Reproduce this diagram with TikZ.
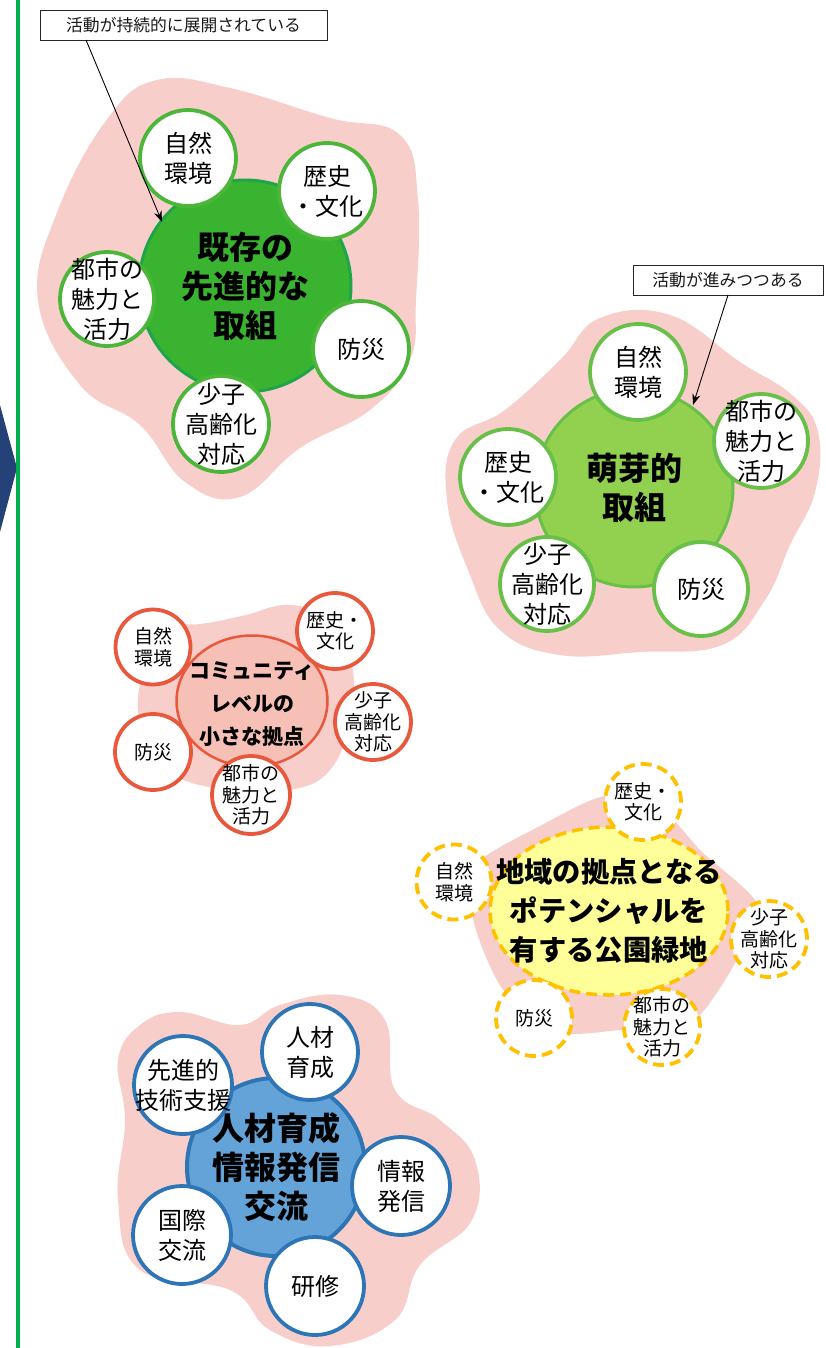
\documentclass[tikz,border=0pt]{standalone}
\usepackage{fontspec}
\setmainfont{Noto Sans CJK JP}
\usetikzlibrary{shapes.geometric,arrows.meta}
\definecolor{pinkbg}{RGB}{248,206,202}
\definecolor{gfill}{RGB}{58,180,48}
\definecolor{gline}{RGB}{30,165,75}
\definecolor{gsat}{RGB}{76,182,58}
\definecolor{lgfill}{RGB}{146,208,80}
\definecolor{lgline}{RGB}{104,192,72}
\definecolor{rline}{RGB}{232,88,60}
\definecolor{rfill}{RGB}{246,192,182}
\definecolor{yfill}{RGB}{255,255,153}
\definecolor{yline}{RGB}{255,192,0}
\definecolor{bfill}{RGB}{100,163,216}
\definecolor{bline}{RGB}{46,117,182}
\definecolor{navy}{RGB}{37,66,120}
\definecolor{vgreen}{RGB}{0,176,80}
\newcommand\fsSatL{\fontsize{24}{30}\selectfont}
\newcommand\fsSatS{\fontsize{19}{21.5}\selectfont}
\newcommand\fsCenL{\bfseries\fontsize{32}{39}\selectfont}
\newcommand\fsCenM{\bfseries\fontsize{21}{33}\selectfont}
\newcommand\fsCenY{\bfseries\fontsize{28.3}{39}\selectfont}
\newcommand\fsNote{\fontsize{16.8}{18}\selectfont}
\begin{document}
\begin{tikzpicture}[x=1pt,y=-1pt,
  sat/.style={circle, draw, fill=white, line width=3.8pt, inner sep=-30pt, align=center, text=black},
  cen/.style={circle, draw, line width=3pt, inner sep=-30pt, align=center, text=black},
  lbl/.style={inner sep=0pt, align=center, text=black},
  note/.style={draw=black!85, line width=0.9pt, fill=white, inner sep=0pt, font=\fsNote, text=black!90},
  blob/.style={fill=pinkbg},
  callout/.style={draw=black, line width=0.9pt, -{Stealth[length=11pt,width=8pt]}},
  ydash/.style={dash pattern=on 11pt off 6pt}
]
\useasboundingbox (0,0) rectangle (826,1348);
\fill[white] (0,0) rectangle (826,1348);

% left chevron and vertical line
\fill[navy] (0,405) -- (17,468) -- (0,532) -- cycle;
\draw[vgreen, line width=4.5pt] (18,0) -- (18,1348);

% ---------- cluster 1 ----------
\fill[blob] plot[smooth cycle, tension=0.7] coordinates {
 (157,80) (230,88) (330,118) (400,135) (418,200) (416,300) (410,360) (370,410)
 (300,448) (240,497) (185,482) (140,425) (80,385) (38,300) (58,210) (108,118)};
\node[cen, fill=gfill, draw=gline, minimum size=212pt, font=\fsCenL] (c1) at (245,286) {既存の\\先進的な\\取組};
\node[sat, draw=gsat, minimum size=96pt, font=\fsSatL] (c1a) at (188,158) {自然\\環境};
\node[sat, draw=gsat, minimum size=96pt, font=\fsSatL] (c1b) at (327,191) {歴史\\・文化};
\node[sat, draw=gsat, minimum size=94pt, font=\fsSatL] (c1c) at (107,299) {都市の\\魅力と\\活力};
\node[sat, draw=gsat, minimum size=96pt, font=\fsSatL] (c1d) at (361,349) {防災};
\node[sat, draw=gsat, minimum size=96pt, font=\fsSatL] (c1e) at (221,424) {少子\\高齢化\\対応};
\node[note, minimum width=287pt, minimum height=30pt] (n1) at (183.5,25) {活動が持続的に展開されている};
\coordinate (n1s) at (86,40);
\coordinate (n1e) at (162,222);
\draw[callout] (n1s) -- (n1e);

% ---------- cluster 2 ----------
\fill[blob] plot[smooth cycle, tension=0.7] coordinates {
 (600,318) (670,315) (740,362) (792,395) (818,432) (815,492) (790,545) (765,600)
 (722,645) (640,652) (560,655) (500,630) (468,570) (447,500) (455,440) (505,410) (560,360)};
\node[cen, fill=lgfill, draw=lgline, minimum size=198pt, font=\fsCenL] (c2) at (634,488) {萌芽的\\取組};
\node[sat, draw=lgline, minimum size=96pt, font=\fsSatL] (c2a) at (638,372) {自然\\環境};
\node[sat, draw=lgline, minimum size=94pt, font=\fsSatL] (c2b) at (761,441) {都市の\\魅力と\\活力};
\node[sat, draw=lgline, minimum size=96pt, font=\fsSatL] (c2c) at (508,477) {歴史\\・文化};
\node[sat, draw=lgline, minimum size=94pt, font=\fsSatL] (c2d) at (547,584) {少子\\高齢化\\対応};
\node[sat, draw=lgline, minimum size=94pt, font=\fsSatL] (c2e) at (701,589) {防災};
\node[note, minimum width=190pt, minimum height=30pt] (n2) at (728,280) {活動が進みつつある};
\coordinate (n2s) at (728,295);
\coordinate (n2e) at (693,405);
\draw[callout] (n2s) -- (n2e);

% ---------- cluster 3 ----------
\fill[blob] plot[smooth cycle, tension=0.7] coordinates {
 (150,628) (200,624) (242,616) (290,605) (332,622) (352,665) (350,720) (330,770)
 (290,790) (230,790) (170,772) (140,722) (142,670)};
\node[ellipse, draw=rline, fill=rfill, line width=2.5pt, inner sep=0pt, minimum width=151pt, minimum height=131pt] (c3) at (252,701) {};
\node[lbl, font=\fsCenM] (c3t) at (252,704) {コミュニティ\\レベルの\\小さな拠点};
\node[sat, draw=rline, minimum size=75pt, font=\fsSatS] (c3a) at (153,647) {自然\\環境};
\node[sat, draw=rline, minimum size=76pt, font=\fsSatS] (c3b) at (335,631) {歴史・\\文化};
\node[sat, draw=rline, minimum size=76pt, font=\fsSatS] (c3c) at (373,722) {少子\\高齢化\\対応};
\node[sat, draw=rline, minimum size=76pt, font=\fsSatS] (c3d) at (153,752) {防災};
\node[sat, draw=rline, minimum size=78pt, font=\fsSatS] (c3e) at (251,795) {都市の\\魅力と\\活力};

% ---------- cluster 4 ----------
\fill[blob] plot[smooth cycle, tension=0.45] coordinates {
 (478,862) (540,826) (605,796) (662,810) (702,852) (756,902) (744,945) (720,988)
 (690,1022) (620,1030) (560,1032) (505,992) (480,942) (470,900)};
\node[ellipse, draw=yline, fill=yfill, line width=3.5pt, ydash, inner sep=0pt, minimum width=238pt, minimum height=168pt] (c4) at (609,911) {};
\node[lbl, font=\fsCenY] (c4t) at (609,911) {地域の拠点となる\\ポテンシャルを\\有する公園緑地};
\node[sat, draw=yline, ydash, minimum size=76pt, font=\fsSatS] (c4a) at (643,802) {歴史・\\文化};
\node[sat, draw=yline, ydash, minimum size=75pt, font=\fsSatS] (c4b) at (454,882) {自然\\環境};
\node[sat, draw=yline, ydash, minimum size=76pt, font=\fsSatS] (c4c) at (769,939) {少子\\高齢化\\対応};
\node[sat, draw=yline, ydash, minimum size=76pt, font=\fsSatS] (c4d) at (534,1018) {防災};
\node[sat, draw=yline, ydash, minimum size=76pt, font=\fsSatS] (c4e) at (662,1027) {都市の\\魅力と\\活力};

% ---------- cluster 5 ----------
\fill[blob] plot[smooth cycle, tension=0.7] coordinates {
 (180,1012) (240,1025) (280,1005) (340,995) (385,1020) (395,1090) (440,1120) (475,1160)
 (472,1220) (420,1265) (395,1320) (330,1346) (270,1330) (230,1290) (140,1270) (118,1200)
 (125,1120) (118,1060) (140,1025)};
\node[cen, fill=bfill, draw=bline, line width=4pt, minimum size=178pt, font=\fsCenL] (c5) at (276,1167) {人材育成\\情報発信\\交流};
\node[sat, draw=bline, minimum size=96pt, font=\fsSatL] (c5a) at (310,1052) {人材\\育成};
\node[sat, draw=bline, minimum size=98pt, font=\fsSatL] (c5b) at (183,1085) {先進的\\技術支援};
\node[sat, draw=bline, minimum size=98pt, font=\fsSatL] (c5c) at (401,1186) {情報\\発信};
\node[sat, draw=bline, minimum size=98pt, font=\fsSatL] (c5d) at (182,1235) {国際\\交流};
\node[sat, draw=bline, minimum size=98pt, font=\fsSatL] (c5e) at (315,1286) {研修};
\end{tikzpicture}
\end{document}
